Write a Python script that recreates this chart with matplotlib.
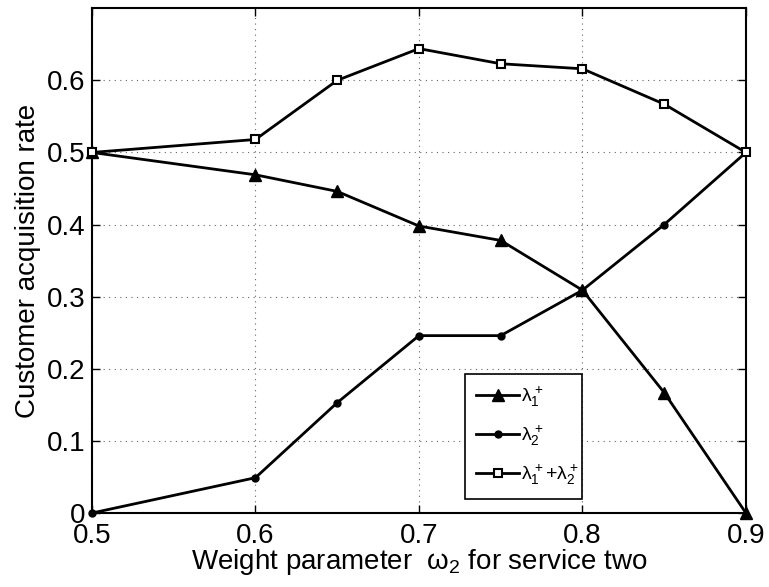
import matplotlib.pyplot as plt

plt.rcParams['font.family'] = ['Liberation Sans', 'DejaVu Sans']
plt.rcParams['mathtext.fontset'] = 'custom'
plt.rcParams['mathtext.rm'] = 'Liberation Sans'
plt.rcParams['mathtext.it'] = 'Liberation Sans'

w2 = [0.5, 0.6, 0.65, 0.7, 0.75, 0.8, 0.85, 0.9]
lam1 = [0.5, 0.469, 0.446, 0.398, 0.378, 0.309, 0.167, 0.0]
lam2 = [0.0, 0.049, 0.153, 0.246, 0.246, 0.309, 0.4, 0.5]
lam_sum = [0.5, 0.518, 0.6, 0.644, 0.623, 0.616, 0.567, 0.5]

fig = plt.figure(figsize=(7.69, 5.87), dpi=100)
ax = fig.add_axes([0.1196, 0.126, 0.8504, 0.860])

ax.plot(w2, lam1, '-^', color='k', lw=2, ms=8, mfc='k', clip_on=False, zorder=3,
        label=r'$\lambda_1^+$')
ax.plot(w2, lam2, '-o', color='k', lw=2, ms=5, mfc='k', clip_on=False, zorder=3,
        label=r'$\lambda_2^+$')
ax.plot(w2, lam_sum, '-s', color='k', lw=2, ms=6, mfc='white', mew=1.5, clip_on=False,
        zorder=3, label=r'$\lambda_1^+$+$\lambda_2^+$')

ax.set_xlim(0.5, 0.9)
ax.set_ylim(0, 0.7)
ax.set_xticks([0.5, 0.6, 0.7, 0.8, 0.9])
ax.set_xticklabels(['0.5', '0.6', '0.7', '0.8', '0.9'])
ax.set_yticks([0, 0.1, 0.2, 0.3, 0.4, 0.5, 0.6])
ax.set_yticklabels(['0', '0.1', '0.2', '0.3', '0.4', '0.5', '0.6'])
ax.tick_params(direction='in', top=True, right=True, labelsize=20, length=6, width=1)
ax.tick_params(axis='x', pad=7)
ax.tick_params(axis='y', pad=5)
ax.grid(True, linestyle=(0, (1, 4)), color='0.4', lw=0.8)
for s in ax.spines.values():
    s.set_linewidth(1.5)

ax.set_xlabel(r'Weight parameter  $\omega_2$ for service two', fontsize=20, labelpad=-1)
ax.set_ylabel('Customer acquisition rate', fontsize=20, labelpad=4)

leg = ax.legend(loc='lower left', bbox_to_anchor=(0.570, 0.028, 0.180, 0.255), mode='expand',
                fontsize=14, fancybox=False, edgecolor='k', framealpha=1,
                handlelength=2.2, handletextpad=0.1, borderaxespad=0, borderpad=0.6,
                labelspacing=0.75)
leg.get_frame().set_linewidth(1.2)

fig.savefig('out.png', dpi=100)
